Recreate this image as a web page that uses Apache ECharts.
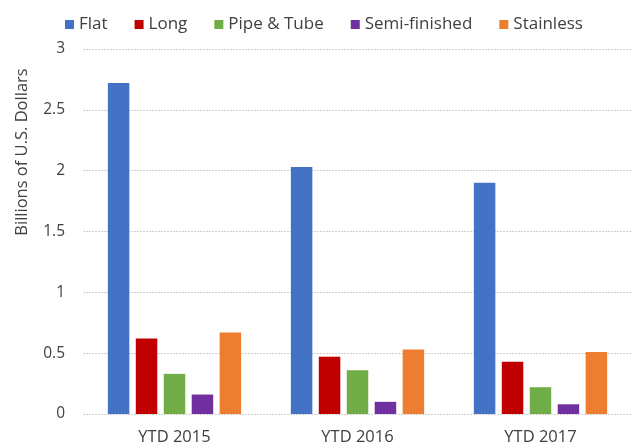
<!DOCTYPE html>
<html>
<head>
<meta charset="utf-8">
<script src="https://cdn.jsdelivr.net/npm/echarts@6/dist/echarts.min.js"></script>
<style>html,body{margin:0;padding:0;background:#fff}#c{width:632px;height:447px}</style>
</head>
<body>
<div id="c"></div>
<script>
const categories = ['YTD 2015', 'YTD 2016', 'YTD 2017'];
const seriesNames = ['Flat', 'Long', 'Pipe & Tube', 'Semi-finished', 'Stainless'];
const flat = [2.72, 2.03, 1.90];
const long = [0.62, 0.47, 0.43];
const pipeTube = [0.33, 0.36, 0.22];
const semiFinished = [0.16, 0.10, 0.08];
const stainless = [0.67, 0.53, 0.51];
const colors = ['#4472C4', '#C00000', '#70AD47', '#7030A0', '#ED7D31'];
const yTicks = [0, 0.5, 1, 1.5, 2, 2.5, 3];
const yAxisTitle = 'Billions of U.S. Dollars';

const values = [flat, long, pipeTube, semiFinished, stainless];
const font = '"Open Sans", "Liberation Sans", sans-serif';
const chart = echarts.init(document.getElementById('c'), null, {renderer: 'canvas'});
chart.setOption({
  animation: false,
  backgroundColor: '#fff',
  color: colors,
  legend: {
    top: 11,
    left: 60,
    itemWidth: 9,
    itemHeight: 9,
    itemGap: 27,
    icon: 'rect',
    textStyle: {fontFamily: font, fontSize: 17, color: '#404040'},
    data: seriesNames
  },
  graphic: [{
    type: 'text',
    x: 22,
    y: 152,
    rotation: Math.PI / 2,
    style: {
      text: yAxisTitle,
      font: '16.5px ' + font,
      fill: '#404040',
      align: 'center',
      verticalAlign: 'middle'
    }
  }],
  grid: {left: 83, right: 0, top: 49, bottom: 33, containLabel: false},
  xAxis: {
    type: 'category',
    data: categories,
    axisLine: {show: false},
    axisTick: {show: false},
    axisLabel: {fontFamily: font, fontSize: 16.5, color: '#404040', margin: 15}
  },
  yAxis: {
    type: 'value',
    min: 0, max: 3, interval: 0.5,
    axisLabel: {fontFamily: font, fontSize: 15.5, color: '#404040', margin: 18,
      formatter: v => (yTicks.indexOf(v) >= 0 ? String(v) : '')},
    splitLine: {lineStyle: {color: '#d0d0d0', type: [2, 1], width: 1}},
    axisLine: {show: false},
    axisTick: {show: false}
  },
  series: seriesNames.map((n, i) => ({
    name: n,
    type: 'bar',
    data: values[i],
    barWidth: 21.5,
    barGap: '30%',
    itemStyle: {color: colors[i]}
  }))
});
</script>
</body>
</html>
